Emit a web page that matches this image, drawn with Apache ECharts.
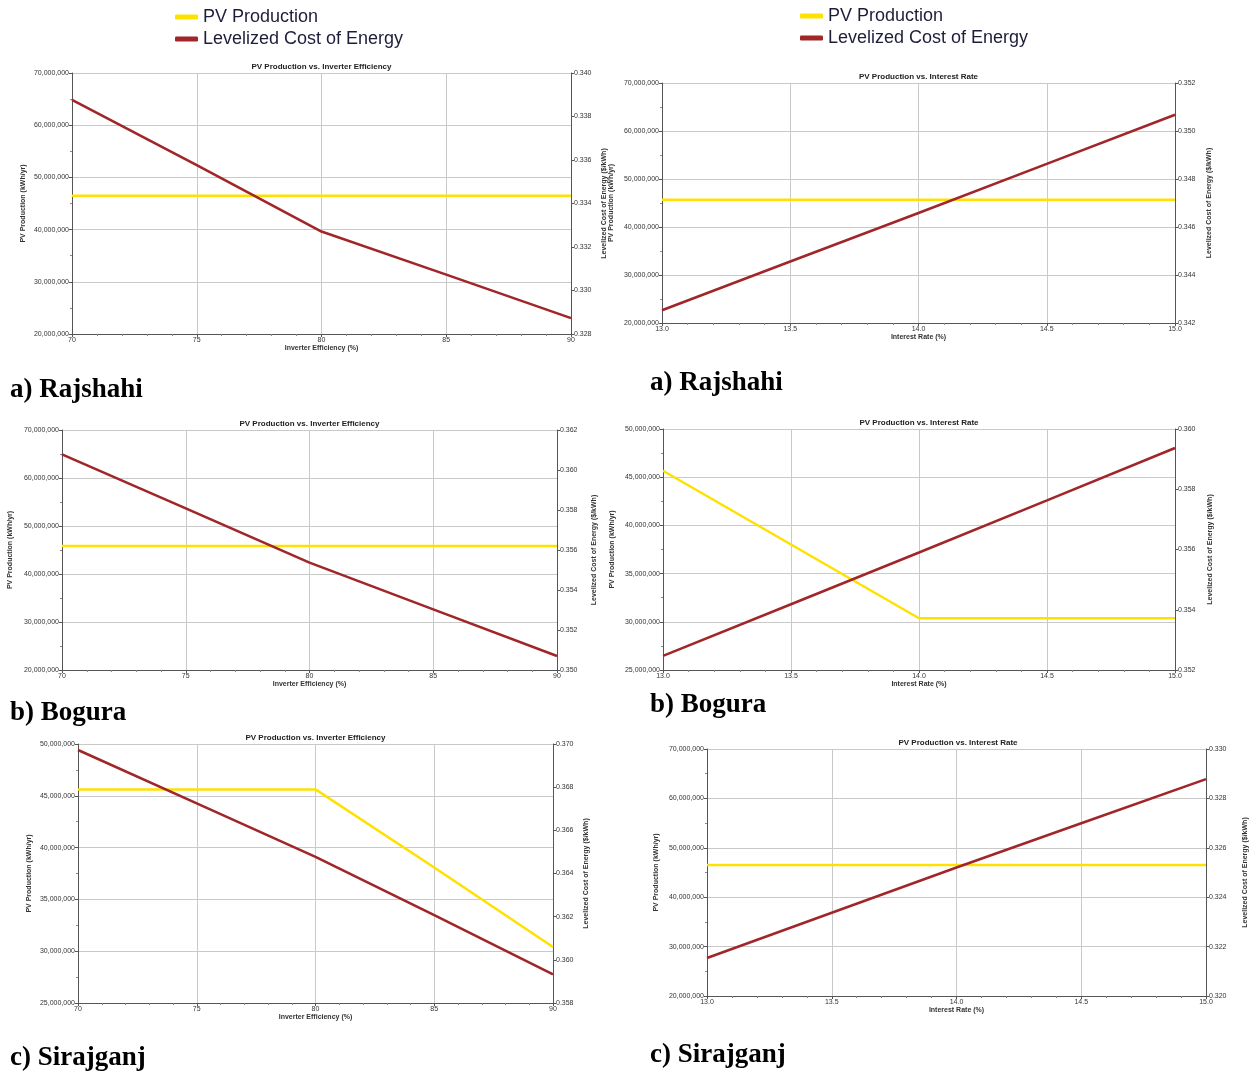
<!DOCTYPE html>
<html>
<head>
<meta charset="utf-8">
<script src="https://cdn.jsdelivr.net/npm/echarts@6/dist/echarts.min.js"></script>
<style>
html,body{margin:0;padding:0;background:#fff;}
#c{width:1250px;height:1073px;}
</style>
</head>
<body>
<div id="c"></div>
<script>
// ---- Data ----
const effX = [70, 75, 80, 85, 90];
const rateX = [13.0, 13.5, 14.0, 14.5, 15.0];

const rajEffPV   = [46500000, 46500000, 46500000, 46500000, 46500000];
const rajEffLCOE = [0.33876, 0.33576, 0.33271, 0.33073, 0.32873];
const rajRatePV   = [45700000, 45700000, 45700000, 45700000, 45700000];
const rajRateLCOE = [0.34253, 0.34456, 0.34658, 0.34863, 0.35068];

const bogEffPV   = [45830000, 45830000, 45830000, 45830000, 45830000];
const bogEffLCOE = [0.36078, 0.35808, 0.35537, 0.35303, 0.35070];
const bogRatePV   = [45670000, 38020000, 30370000, 30370000, 30370000];
const bogRateLCOE = [0.35247, 0.35418, 0.35590, 0.35763, 0.35937];

const sirEffPV   = [45620000, 45620000, 45620000, 38080000, 30410000];
const sirEffLCOE = [0.36972, 0.36725, 0.36477, 0.36207, 0.35933];
const sirRatePV   = [46520000, 46520000, 46520000, 46520000, 46520000];
const sirRateLCOE = [0.32154, 0.32337, 0.32520, 0.32699, 0.32878];

const seriesNames = ['PV Production', 'Levelized Cost of Energy'];
const effTitle = 'PV Production vs. Inverter Efficiency';
const rateTitle = 'PV Production vs. Interest Rate';
const effAxisName = 'Inverter Efficiency (%)';
const rateAxisName = 'Interest Rate (%)';
const leftAxisName = 'PV Production (kWh/yr)';
const rightAxisName = 'Levelized Cost of Energy ($/kWh)';
const captions = ['a) Rajshahi', 'b) Bogura', 'c) Sirajganj'];

// ---- Panels ----
const panels = [
  {g:{left:72, top:73, width:499, height:261}, x:effX, pv:rajEffPV, lc:rajEffLCOE, rate:false,
   yL:[20000000,70000000,10000000], yR:[0.328,0.340,0.002], title:effTitle, lg:45, rg:30},
  {g:{left:662, top:83, width:513, height:240}, x:rateX, pv:rajRatePV, lc:rajRateLCOE, rate:true,
   yL:[20000000,70000000,10000000], yR:[0.342,0.352,0.002], title:rateTitle, lg:47, rg:31},
  {g:{left:62, top:430, width:495, height:240}, x:effX, pv:bogEffPV, lc:bogEffLCOE, rate:false,
   yL:[20000000,70000000,10000000], yR:[0.350,0.362,0.002], title:effTitle, lg:48, rg:34},
  {g:{left:663, top:429, width:512, height:241}, x:rateX, pv:bogRatePV, lc:bogRateLCOE, rate:true,
   yL:[25000000,50000000,5000000], yR:[0.352,0.360,0.002], title:rateTitle, lg:47, rg:32},
  {g:{left:78, top:744, width:475, height:259}, x:effX, pv:sirEffPV, lc:sirEffLCOE, rate:false,
   yL:[25000000,50000000,5000000], yR:[0.358,0.370,0.002], title:effTitle, lg:45, rg:30},
  {g:{left:707, top:749, width:502, height:247}, x:rateX, pv:sirRatePV, lc:sirRateLCOE, rate:true,
   yL:[20000000,70000000,10000000], yR:[0.320,0.330,0.002], title:rateTitle, lg:47, rg:36}
];

const FONT = 'Liberation Sans';
const axisLineColor = '#555';
const gridColor = '#c9c9c9';
const lblStyle = {fontSize: 7, color: '#333', fontFamily: FONT};
const nameStyle = {fontSize: 7, color: '#333', fontFamily: FONT, fontWeight: 'bold'};

const grid = [], xAxis = [], yAxis = [], series = [], graphic = [];

panels.forEach((p, i) => {
  grid.push(Object.assign({containLabel:false, show:true, backgroundColor:'#fff', borderWidth:0}, p.g));
  xAxis.push({
    type:'value', gridIndex:i,
    min: p.rate ? 13 : 70, max: p.rate ? 15 : 90, interval: p.rate ? 0.5 : 5,
    name: p.rate ? rateAxisName : effAxisName, nameLocation:'middle', nameGap: 11,
    nameTextStyle: nameStyle,
    axisLine:{show:true, onZero:false, lineStyle:{color:axisLineColor, width:1}},
    axisTick:{show:true, length:3, lineStyle:{color:axisLineColor}},
    minorTick:{show:true, splitNumber:5, length:2, lineStyle:{color:'#888'}},
    axisLabel:Object.assign({margin:3, formatter: v => p.rate ? v.toFixed(1) : String(v)}, lblStyle),
    splitLine:{show:true, lineStyle:{color:gridColor, width:1}}
  });
  yAxis.push({
    type:'value', gridIndex:i, position:'left',
    min:p.yL[0], max:p.yL[1], interval:p.yL[2],
    name:leftAxisName, nameLocation:'middle', nameGap:p.lg, nameRotate:90,
    nameTextStyle: nameStyle,
    axisLine:{show:true, lineStyle:{color:axisLineColor, width:1}},
    axisTick:{show:true, length:3, lineStyle:{color:axisLineColor}},
    minorTick:{show:true, splitNumber:2, length:2, lineStyle:{color:'#888'}},
    axisLabel:Object.assign({margin:3, formatter: v => Math.round(v).toLocaleString('en-US')}, lblStyle),
    splitLine:{show:true, lineStyle:{color:gridColor, width:1}}
  });
  yAxis.push({
    type:'value', gridIndex:i, position:'right',
    min:p.yR[0], max:p.yR[1], interval:p.yR[2],
    name:rightAxisName, nameLocation:'middle', nameGap:p.rg, nameRotate:90,
    nameTextStyle: nameStyle,
    axisLine:{show:true, lineStyle:{color:axisLineColor, width:1}},
    axisTick:{show:true, length:3, lineStyle:{color:axisLineColor}},
    axisLabel:Object.assign({margin:3, formatter: v => v.toFixed(3)}, lblStyle),
    splitLine:{show:false}
  });
  series.push({
    name:seriesNames[0], type:'line', xAxisIndex:i, yAxisIndex:2*i,
    data:p.x.map((x, k) => [x, p.pv[k]]), symbol:'none', z:3,
    lineStyle:{color:'#FFE100', width:2.5}, itemStyle:{color:'#FFE100'}
  });
  series.push({
    name:seriesNames[1], type:'line', xAxisIndex:i, yAxisIndex:2*i+1,
    data:p.x.map((x, k) => [x, p.lc[k]]), symbol:'none', z:4,
    lineStyle:{color:'#A0262A', width:2.6}, itemStyle:{color:'#A0262A'}
  });
  graphic.push({
    type:'text', x: p.g.left + p.g.width/2, y: p.g.top - 2,
    style:{text:p.title, fontSize:8, fontFamily:FONT, fontWeight:'bold', fill:'#222',
           align:'center', verticalAlign:'bottom'}
  });
});

// captions
const capPos = [[10,390],[650,383],[10,713],[650,705],[10,1058],[650,1055]];
capPos.forEach((c, i) => {
  graphic.push({
    type:'text', x:c[0], y:c[1],
    style:{text:captions[Math.floor(i/2)], fontSize:27, fontFamily:'Liberation Serif',
           fontWeight:'bold', fill:'#000', align:'left', verticalAlign:'middle'}
  });
});

const legendCommon = {
  orient:'vertical', data:seriesNames, icon:'roundRect',
  itemWidth:23, itemHeight:5, itemGap:4,
  textStyle:{fontSize:18, fontFamily:FONT, color:'#1d1d3a', padding:[0,0,0,0]},
  selectedMode:false
};

const option = {
  animation:false,
  backgroundColor:'#fff',
  legend:[
    Object.assign({left:170, top:3}, legendCommon),
    Object.assign({left:795, top:2}, legendCommon)
  ],
  grid, xAxis, yAxis, series, graphic
};

const chart = echarts.init(document.getElementById('c'), null, {renderer:'canvas'});
chart.setOption(option);
</script>
</body>
</html>
